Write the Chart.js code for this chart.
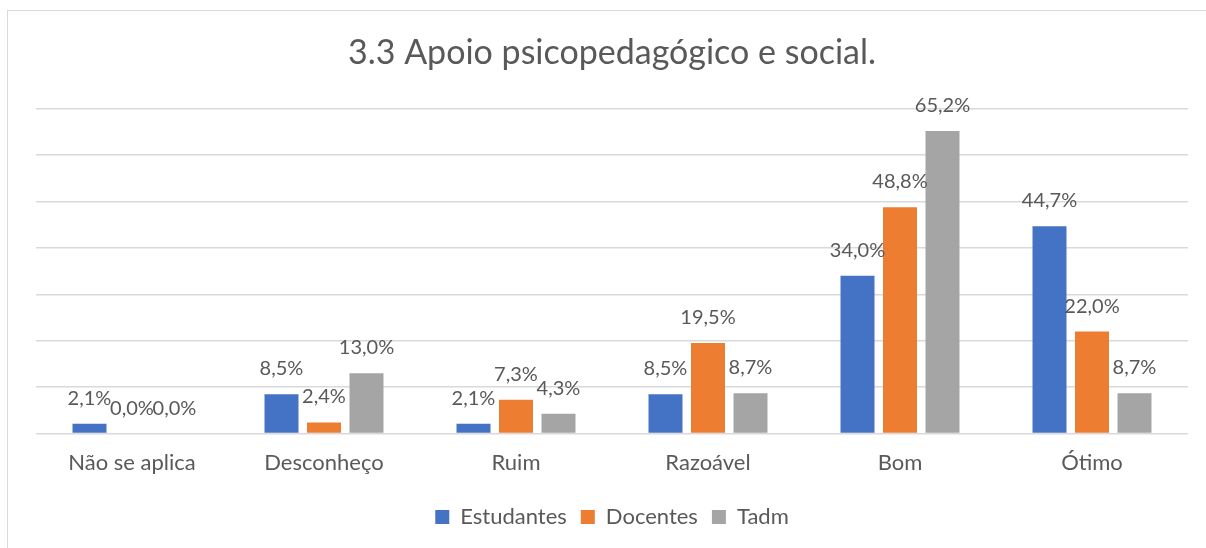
<!DOCTYPE html>
<html>
<head>
<meta charset="utf-8">
<script src="https://cdn.jsdelivr.net/npm/chart.js@4/dist/chart.umd.min.js"></script>
<style>
  body { margin: 0; background: #fff; overflow: hidden; }
  .moldura { position: absolute; left: 7px; top: 10px; width: 1300px; height: 700px; border: 1.5px solid #d9d9d9; }
  canvas { position: absolute; left: 0; top: 0; }
</style>
</head>
<body>
<div class="moldura"></div>
<canvas id="grafico" width="1206" height="548"></canvas>
<script>
// dados
const categorias = ['Não se aplica', 'Desconheço', 'Ruim', 'Razoável', 'Bom', 'Ótimo'];
const estudantes = [2.1, 8.5, 2.1, 8.5, 34.0, 44.7];
const docentes = [0.0, 2.4, 7.3, 19.5, 48.8, 22.0];
const tadm = [0.0, 13.0, 4.3, 8.7, 65.2, 8.7];

const corTexto = '#595959';
const fonte = 'Lato, "Open Sans", sans-serif';

// rótulos de valor em cima de cada barra
const rotulos = {
  id: 'rotulos',
  afterDatasetsDraw(chart) {
    const ctx = chart.ctx;
    ctx.save();
    ctx.fillStyle = corTexto;
    ctx.font = '20px ' + fonte;
    ctx.textAlign = 'center';
    ctx.textBaseline = 'alphabetic';
    chart.data.datasets.forEach((ds, i) => {
      chart.getDatasetMeta(i).data.forEach((bar, j) => {
        const txt = ds.data[j].toFixed(1).replace('.', ',') + '%';
        ctx.fillText(txt, bar.x, bar.y - 19);
      });
    });
    ctx.restore();
  }
};

const ctx = document.getElementById('grafico').getContext('2d');
new Chart(ctx, {
  type: 'bar',
  data: {
    labels: categorias,
    datasets: [
      { label: 'Estudantes', data: estudantes, backgroundColor: '#4472C4' },
      { label: 'Docentes', data: docentes, backgroundColor: '#ED7D31' },
      { label: 'Tadm', data: tadm, backgroundColor: '#A5A5A5' }
    ]
  },
  options: {
    responsive: false,
    animation: false,
    categoryPercentage: 0.664,
    barPercentage: 0.8,
    layout: { padding: { left: 36, right: 18, top: 0, bottom: 10 } },
    plugins: {
      title: {
        display: true,
        text: '3.3 Apoio psicopedagógico e social.',
        color: corTexto,
        font: { family: fonte, size: 34, weight: 'normal' },
        padding: { top: 33, bottom: 35 }
      },
      legend: {
        position: 'bottom',
        labels: {
          color: corTexto,
          font: { family: fonte, size: 22 },
          boxWidth: 14,
          boxHeight: 14,
          padding: 14
        }
      },
      tooltip: { enabled: false }
    },
    scales: {
      x: {
        grid: { display: false, drawTicks: false },
        border: { display: false },
        ticks: { color: corTexto, font: { family: fonte, size: 22 }, padding: 16 }
      },
      y: {
        min: 0,
        max: 70,
        ticks: { display: false, stepSize: 10 },
        grid: { color: '#d9d9d9', lineWidth: 1.5, drawTicks: false },
        border: { display: false }
      }
    }
  },
  plugins: [rotulos]
});
</script>
</body>
</html>
